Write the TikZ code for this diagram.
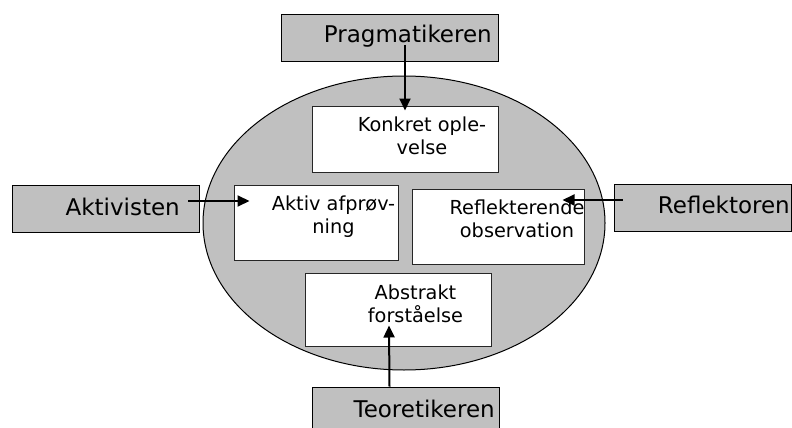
\documentclass[tikz,border=0pt]{standalone}
\usepackage{fontspec}
\setmainfont{DejaVu Sans}
\usepackage{xcolor}
\usepackage{tikz}
\usetikzlibrary{
  arrows.meta
}

\definecolor{boxgray}{HTML}{C0C0C0}

\begin{document}
\begin{tikzpicture}[
  x=1pt, y=-1pt,
  outer/.style={
    draw=black,
    fill=boxgray,
    line width=0.9pt,
    inner sep=0pt
  },
  inner/.style={
    draw=black!85,
    fill=white,
    line width=1pt,
    inner sep=0pt
  },
  bigtxt/.style={
    font=\fontsize{23}{27}\selectfont,
    anchor=base east,
    inner sep=0pt
  },
  smalltxt/.style={
    font=\fontsize{19.3}{23}\selectfont,
    align=center,
    anchor=base,
    inner sep=0pt
  },
  arr/.style={
    line width=2pt,
    -{Triangle[length=12pt,width=11pt]}
  }
]

\useasboundingbox (0,0) rectangle (792,428);

% Learning circle
\draw[fill=boxgray, line width=1pt] (404,223) ellipse [x radius=201pt, y radius=147pt];

% Outer boxes (learning styles)
\node[outer, minimum width=217pt, minimum height=47pt] (prag) at (389.5,37.5) {};
\node[outer, minimum width=187pt, minimum height=47pt] (akt) at (105.5,208.5) {};
\node[outer, minimum width=177pt, minimum height=47pt] (reflektoren) at (702.5,207.5) {};
\node[outer, minimum width=187pt, minimum height=48pt] (teo) at (405.5,411) {};

% Inner boxes (stages)
\node[inner, minimum width=186pt, minimum height=66pt] (konkret) at (405,139) {};
\node[inner, minimum width=164pt, minimum height=75pt] (aktiv) at (316,222.5) {};
\node[inner, minimum width=172pt, minimum height=75pt] (refl) at (498,226.5) {};
\node[inner, minimum width=186pt, minimum height=73pt] (abstrakt) at (398,309.5) {};

% Labels (anchor is on the last line)
\node[bigtxt] (pragtxt) at (492,43) {Pragmatikeren};
\node[bigtxt] (akttxt) at (180,215) {Aktivisten};
\node[bigtxt] (reflektorentxt) at (790,213) {Reflektoren};
\node[bigtxt] (teotxt) at (495,417) {Teoretikeren};

\node[smalltxt] (konkrettxt) at (422,154) {Konkret ople-\\velse};
\node[smalltxt] (aktivtxt) at (333.5,233) {Aktiv afprøv-\\ning};
\node[smalltxt] (refltxt) at (517,237) {Reflekterende\\observation};
\node[smalltxt] (abstrakttxt) at (415.5,322) {Abstrakt\\forståelse};

% Arrows
\draw[arr, shorten <=7.5pt, shorten >=-5pt] (konkret.north |- prag.center) -- (konkret.north);
\draw[arr] ([xshift=-11pt, yshift=7.5pt]akt.east) -- ([xshift=16pt, yshift=21.5pt]aktiv.west);
\draw[arr] ([xshift=9pt, yshift=7.5pt]reflektoren.west) -- ([xshift=-22pt, yshift=26.5pt]refl.east);
\draw[arr] ([xshift=-16pt]teo.north) -- ([xshift=-9pt, yshift=21pt]abstrakt.south);

\end{tikzpicture}
\end{document}
